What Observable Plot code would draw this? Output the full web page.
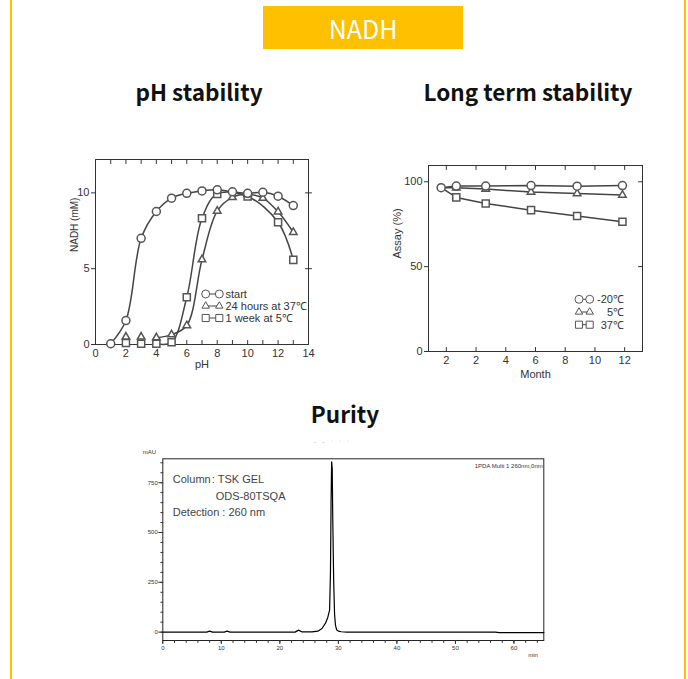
<!DOCTYPE html>
<html><head><meta charset="utf-8">
<script src="https://cdn.jsdelivr.net/npm/d3@7"></script>
<script src="https://cdn.jsdelivr.net/npm/@observablehq/plot@0.6"></script>
<style>
body{margin:0;background:#fff;}
#page{position:relative;width:688px;height:679px;overflow:hidden;font-family:"Liberation Sans",Arial,sans-serif;}
.vline{position:absolute;top:0;width:2px;height:679px;background:#FFC000;}
#banner{position:absolute;left:263px;top:6px;width:200px;height:43px;background:#FFC000;color:#fff;font:25px "Noto Sans CJK JP","Noto Sans",sans-serif;display:flex;align-items:center;justify-content:center;}
.title{position:absolute;font:bold 22.5px/26px "Noto Sans CJK JP","Noto Sans",sans-serif;color:#111;transform:translateX(-50%);white-space:nowrap;}
.chart{position:absolute;}
.faint{position:absolute;left:314px;top:438px;font:7px "Liberation Sans",sans-serif;color:#bbb;letter-spacing:2px;}
</style></head><body>
<div id="page">
  <div class="vline" style="left:10px"></div>
  <div class="vline" style="left:684px"></div>
  <div id="banner">NADH</div>
  <div class="title" style="left:199px;top:78px">pH stability</div>
  <div class="title" style="left:528px;top:78px">Long term stability</div>
  <div class="title" style="left:345px;top:400px">Purity</div>
  <div class="faint">- -  · · ·</div>
  <div class="chart" id="ph" style="left:60px;top:150px"></div>
  <div class="chart" id="lt" style="left:380px;top:150px"></div>
  <div class="chart" id="hplc" style="left:120px;top:435px"></div>
</div>
<script>
// ---------- pH stability ----------
const phStartX = [1,2,3,4,5,6,7,8,9,10,11,12,13];
const phStart  = [0.05,1.58,7.0,8.77,9.65,9.97,10.13,10.2,10.07,9.97,10.04,9.78,9.16];
const ph24hX   = [2,3,4,5,6,7,8,9,10,11,12,13];
const ph24h    = [0.5,0.5,0.45,0.65,1.25,5.6,8.8,9.7,9.9,9.65,8.75,7.4];
const ph1wX    = [2,3,4,5,6,7,8,10,12,13];
const ph1w     = [0.1,0.05,0.05,0.15,3.12,8.33,9.93,9.76,8.06,5.58];
const phTicks  = [0,2,4,6,8,10,12,14];
const nadhTicks = [0,5,10];
const phLegend = ["start","24 hours at 37\u2103","1 week at 5\u2103"];

// ---------- Long term stability ----------
const months     = [-0.35,0.67,2.65,5.7,8.8,11.85];
const assayM20   = [96.5,97.5,97.5,97.8,97.4,97.8];
const assay5     = [96.5,96.5,95.7,94.0,93.1,92.2];
const assay37    = [96.5,90.8,87.2,83.3,79.8,76.5];
const monthTicks = [0,2,4,6,8,10,12];
const monthTickLabels = ["2","2","4","6","8","10","12"];
const assayTicks = [0,50,100];
const ltLegend = ["-20\u2103","5\u2103","37\u2103"];

// ---------- Purity (HPLC) ----------
const chromTime = [0,3,7.5,8,8.5,10.5,11,11.5,22.6,23.2,23.8,25.5,26.5,27.2,27.8,28.2,28.5,28.65,28.75,28.85,28.95,29.05,29.2,29.35,29.5,29.7,30.0,30.5,31.5,56.8,57.5,65.1];
const chromMAU  = [0,0,0,5,0,0,5,0,0,10,1,1,5,18,45,75,110,300,650,855,820,550,250,90,35,12,5,2,0,0,-2,-2];
const timeTicks = [0,10,20,30,40,50,60];
const mauTicks  = [0,250,500,750];

const ink = "#333";
const tickShape = {draw(ctx, l){ ctx.moveTo(0,0); ctx.lineTo(0,-l); }};
const sideTicks = (values, side, {len=4, dir="in", anchor="start"} = {}) => {
  const rin = {bottom:0, top:180, left:90, right:270}[side];
  const rotate = dir === "in" ? rin : (rin + 180) % 360;
  const o = {frameAnchor: side, length: len, rotate, anchor, shape: tickShape, stroke: ink, strokeWidth: 1};
  if (side === "top" || side === "bottom") o.x = d => d; else o.y = d => d;
  return Plot.vector(values, o);
};

const symSize = {circle: 50, triangle: 24, square: 50};
function legend(svg, labels, symbols, {x0, x1, y0, dy, tx, anchor}) {
  const g = d3.select(svg).append("g").attr("font-size", 11).attr("fill", ink);
  labels.forEach((lab, i) => {
    const y = y0 + i * dy;
    const [sym, size] = symbols[i];
    g.append("line").attr("x1", x0).attr("x2", x1).attr("y1", y).attr("y2", y).attr("stroke", "#444");
    [x0, x1].forEach(x => g.append("path")
      .attr("d", d3.symbol(sym, size)())
      .attr("transform", `translate(${x},${y})`)
      .attr("fill", "#fff").attr("stroke", "#555"));
    g.append("text").attr("x", tx).attr("y", y).attr("dy", "0.35em")
      .attr("text-anchor", anchor).text(lab);
  });
}
const legendSyms = [[d3.symbolCircle, symSize.circle], [d3.symbolTriangle, symSize.triangle], [d3.symbolSquare, symSize.square]];

// pH plot
const phPlot = Plot.plot({
  width: 270, height: 230,
  marginLeft: 35, marginRight: 22, marginTop: 9, marginBottom: 36,
  style: {fontFamily: "Liberation Sans, Arial, sans-serif", fontSize: "11px", color: ink, background: "transparent"},
  x: {domain: [0, 14]},
  y: {domain: [0, 12.2]},
  marks: [
    Plot.frame({stroke: ink}),
    Plot.axisX({anchor: "bottom", ticks: phTicks, tickSize: 0, tickPadding: 5, fontSize: 11, label: null}),
    Plot.axisY({anchor: "left", ticks: nadhTicks, tickSize: 4, tickPadding: 2, fontSize: 11, label: null}),
    sideTicks(d3.range(1, 14), "top"),
    sideTicks(d3.range(1, 14), "bottom"),
    sideTicks(nadhTicks.slice(1), "right", {len: 6, anchor: "middle"}),
    Plot.text(["pH"], {frameAnchor: "bottom", dy: 23, text: d => d, fontSize: 11}),
    Plot.text(["NADH (mM)"], {frameAnchor: "left", dx: -21, rotate: -90, text: d => d, fontSize: 10}),
    Plot.line(phStartX, {x: d => d, y: (d, i) => phStart[i], curve: "catmull-rom", stroke: "#444"}),
    Plot.line(ph24hX, {x: d => d, y: (d, i) => ph24h[i], filter: d => d >= 4, curve: "catmull-rom", stroke: "#444"}),
    Plot.line(ph1wX, {x: d => d, y: (d, i) => ph1w[i], filter: d => d >= 4, curve: "catmull-rom", stroke: "#444"}),
    Plot.dot(ph1wX, {x: d => d, y: (d, i) => ph1w[i], symbol: "square", r: 4, fill: "#fff", stroke: "#555"}),
    Plot.dot(ph24hX, {x: d => d, y: (d, i) => ph24h[i], symbol: "triangle", r: 2.8, fill: "#fff", stroke: "#555"}),
    Plot.dot(phStartX, {x: d => d, y: (d, i) => phStart[i], symbol: "circle", r: 4, fill: "#fff", stroke: "#555"})
  ]
});
legend(phPlot, phLegend, legendSyms, {x0: 145.7, x1: 159.3, y0: 144, dy: 12, tx: 165.5, anchor: "start"});
document.getElementById("ph").append(phPlot);

// Long term plot
const ltPlot = Plot.plot({
  width: 290, height: 240,
  marginLeft: 48, marginRight: 28, marginTop: 15, marginBottom: 39,
  style: {fontFamily: "Liberation Sans, Arial, sans-serif", fontSize: "11px", color: ink, background: "transparent"},
  x: {domain: [-1.2, 13.2]},
  y: {domain: [0, 109.6]},
  marks: [
    Plot.frame({stroke: ink}),
    Plot.axisX({anchor: "bottom", ticks: monthTicks, tickSize: 0, tickPadding: 5, fontSize: 11, label: null,
      tickFormat: d => monthTickLabels[monthTicks.indexOf(d)]}),
    Plot.axisY({anchor: "left", ticks: assayTicks, tickSize: 4, tickPadding: 2, fontSize: 11, label: null}),
    sideTicks(monthTicks, "top"),
    sideTicks(monthTicks, "bottom"),
    sideTicks(assayTicks.slice(1), "right"),
    Plot.text(["Month"], {frameAnchor: "bottom", dy: 26, text: d => d, fontSize: 11}),
    Plot.text(["Assay (%)"], {frameAnchor: "left", dx: -31, rotate: -90, text: d => d, fontSize: 11}),
    Plot.line(months, {x: d => d, y: (d, i) => assay37[i], stroke: "#444"}),
    Plot.line(months, {x: d => d, y: (d, i) => assay5[i], stroke: "#444"}),
    Plot.line(months, {x: d => d, y: (d, i) => assayM20[i], stroke: "#444"}),
    Plot.dot(months, {x: d => d, y: (d, i) => assay37[i], filter: (d, i) => i > 0, symbol: "square", r: 4, fill: "#fff", stroke: "#555"}),
    Plot.dot(months, {x: d => d, y: (d, i) => assay5[i], filter: (d, i) => i > 0, symbol: "triangle", r: 2.8, fill: "#fff", stroke: "#555"}),
    Plot.dot(months, {x: d => d, y: (d, i) => assayM20[i], symbol: "circle", r: 4, fill: "#fff", stroke: "#555"})
  ]
});
legend(ltPlot, ltLegend, legendSyms, {x0: 199, x1: 209.7, y0: 149.3, dy: 12.7, tx: 244, anchor: "end"});
document.getElementById("lt").append(ltPlot);

// HPLC plot
const hplcPlot = Plot.plot({
  width: 440, height: 235,
  marginLeft: 42.3, marginRight: 16.7, marginTop: 23.3, marginBottom: 30,
  style: {fontFamily: "Liberation Sans, Arial, sans-serif", fontSize: "6px", color: ink, background: "transparent"},
  x: {domain: [0, 65.1]},
  y: {domain: [-42, 870]},
  marks: [
    Plot.frame({stroke: "#222"}),
    Plot.axisX({anchor: "bottom", ticks: timeTicks, tickSize: 4, tickPadding: 1, fontSize: 6, label: null}),
    Plot.axisY({anchor: "left", ticks: mauTicks, tickSize: 4, tickPadding: 1, fontSize: 6, label: null}),
    sideTicks(d3.range(0, 65, 2), "bottom", {len: 2, dir: "out"}),
    sideTicks(d3.range(0, 851, 50), "left", {len: 2, dir: "out"}),
    Plot.text(["mAU"], {frameAnchor: "top-left", dx: -20, dy: -9, text: d => d, fontSize: 6}),
    Plot.text(["min"], {frameAnchor: "bottom-right", dx: -6, dy: 16, text: d => d, fontSize: 6}),
    Plot.text(["1PDA Multi 1 260nm,0nm"], {frameAnchor: "top-right", dx: -1, dy: 5, textAnchor: "end", text: d => d, fontSize: 6}),
    Plot.text(["Column"], {frameAnchor: "top-left", dx: 10, dy: 16, textAnchor: "start", text: d => d, fontSize: 11, fill: "#444"}),
    Plot.text([": TSK GEL"], {frameAnchor: "top-left", dx: 49, dy: 16, textAnchor: "start", text: d => d, fontSize: 11, fill: "#444"}),
    Plot.text(["ODS-80TSQA"], {frameAnchor: "top-left", dx: 53, dy: 33, textAnchor: "start", text: d => d, fontSize: 11, fill: "#444"}),
    Plot.text(["Detection : 260 nm"], {frameAnchor: "top-left", dx: 10, dy: 49, textAnchor: "start", text: d => d, fontSize: 11, fill: "#444"}),
    Plot.line(chromTime, {x: d => d, y: (d, i) => chromMAU[i], stroke: "#000", strokeWidth: 1.2})
  ]
});
document.getElementById("hplc").append(hplcPlot);
</script>
</body></html>
